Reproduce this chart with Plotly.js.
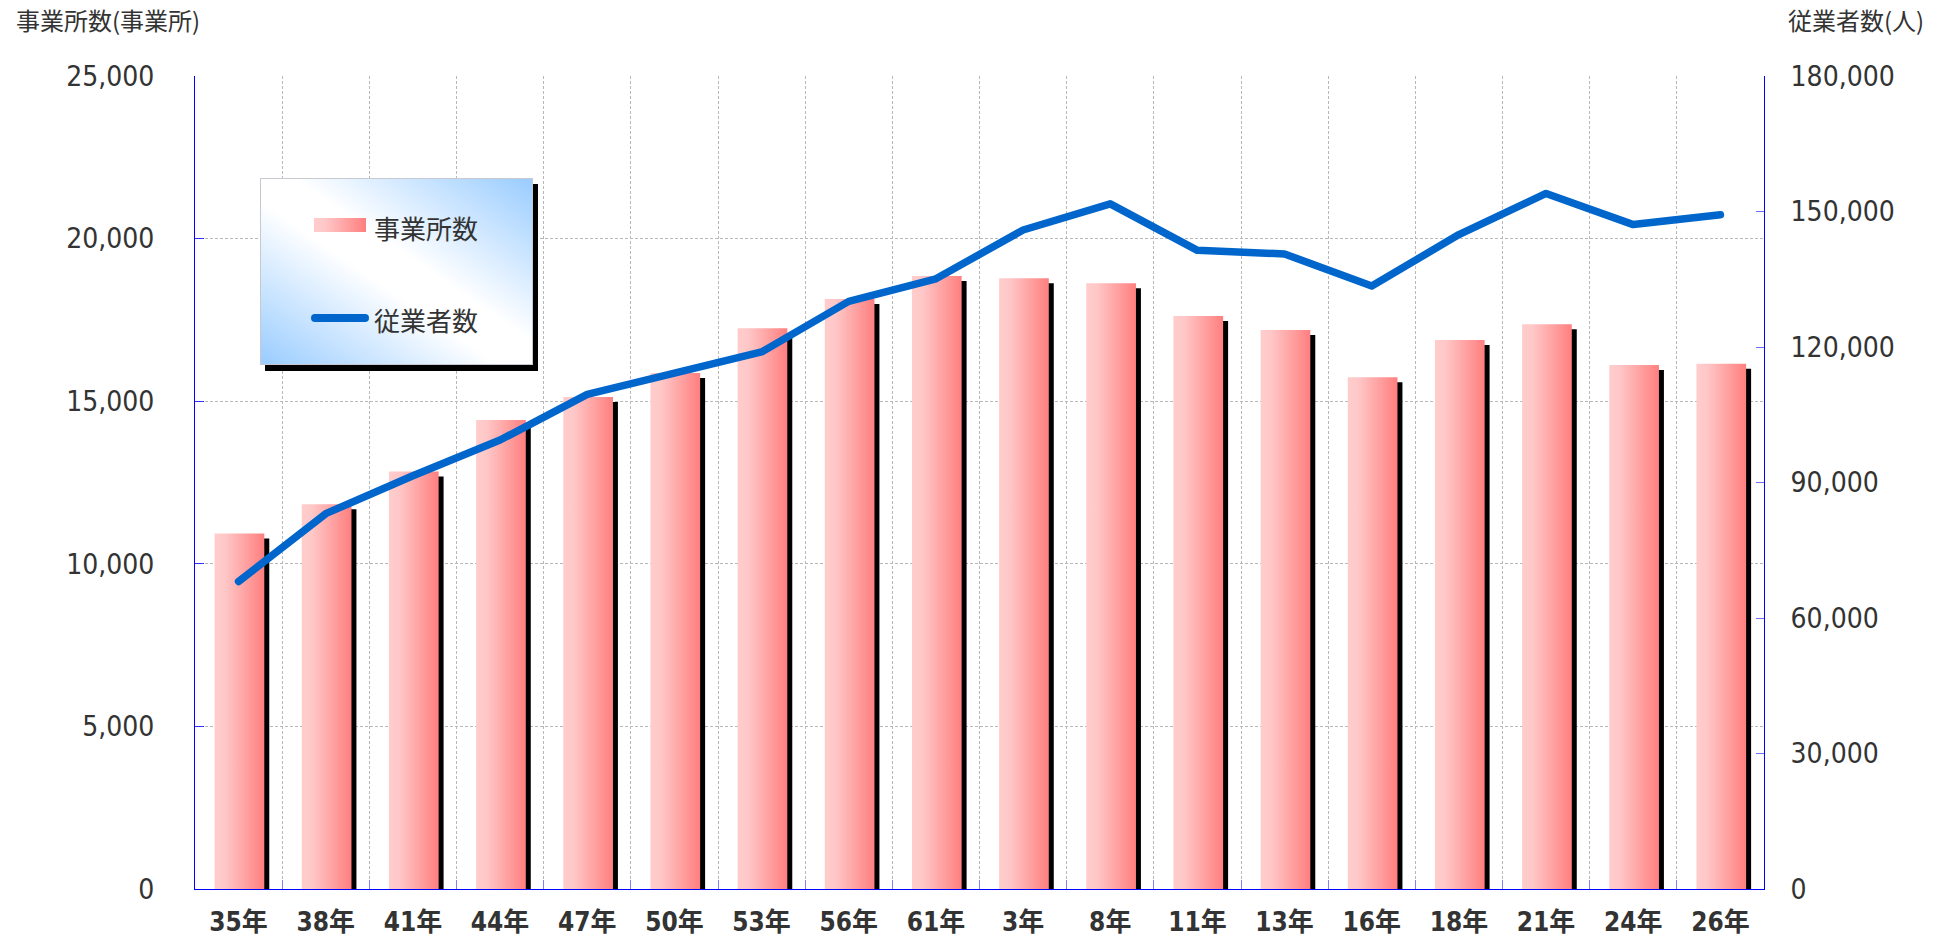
<!DOCTYPE html>
<html>
<head>
<meta charset="utf-8">
<script src="https://cdn.plot.ly/plotly-3.0.1.min.js"></script>
<style>
  html, body { margin: 0; padding: 0; background: #fff; overflow: hidden; }
  #chart { width: 1948px; height: 942px; }
</style>
</head>
<body>
<div id="chart"></div>
<script>
// ---- data ----
const categories = ['35年','38年','41年','44年','47年','50年','53年','56年','61年','3年','8年','11年','13年','16年','18年','21年','24年','26年'];
const offices = [10930, 11830, 12840, 14420, 15130, 15870, 17240, 18140, 18850, 18780, 18630, 17620, 17190, 15740, 16880, 17370, 16110, 16150];
const employees = [68100, 83100, 91500, 99400, 109500, 114200, 118900, 130100, 135100, 145900, 151700, 141400, 140600, 133500, 144900, 154000, 147100, 149300];
const leftTickVals = [0, 5000, 10000, 15000, 20000, 25000];
const leftTickText = ['0', '5,000', '10,000', '15,000', '20,000', '25,000'];
const rightTickVals = [0, 30000, 60000, 90000, 120000, 150000, 180000];
const rightTickText = ['0', '30,000', '60,000', '90,000', '120,000', '150,000', '180,000'];
const seriesNames = ['事業所数', '従業者数'];
const leftTitle = '事業所数(事業所)';
const rightTitle = '従業者数(人)';

// ---- geometry helpers (pixel layout) ----
const W = 1948, H = 942;
const M = { l: 195, r: 184, t: 76, b: 53 };
const PW = W - M.l - M.r, PH = H - M.t - M.b;
const px2x = p => (p - M.l) / PW;
const px2y = p => (H - M.b - p) / PH;

const tickFont = { family: '"DejaVu Sans Condensed", "Noto Sans CJK JP", sans-serif', size: 28, color: '#333333' };
const xFont = { family: '"DejaVu Sans Condensed", "Noto Sans CJK JP", sans-serif', size: 26, color: '#333333', weight: 600 };
const cjkFont = { family: '"Noto Sans CJK JP", sans-serif', size: 24, color: '#333333' };

const barWidth = 0.57;
const shadowDown = 154; // ~5px in y units

const traces = [
  { // shadow
    type: 'bar', x: categories, y: offices, base: -shadowDown,
    width: barWidth, offset: -barWidth / 2 + 0.067,
    marker: { color: '#000000', line: { width: 0 } },
    showlegend: false, hoverinfo: 'skip', yaxis: 'y'
  },
  {
    type: 'bar', name: seriesNames[0], x: categories, y: offices,
    width: barWidth, offset: -barWidth / 2 + 0.01,
    marker: { color: '#ffa6a6', line: { width: 0 } },
    showlegend: false, yaxis: 'y'
  },
  {
    type: 'scatter', mode: 'lines', name: seriesNames[1], x: categories, y: employees,
    line: { color: '#0066cc', width: 7.5 },
    showlegend: false, yaxis: 'y2'
  }
];

const legendSvg = `<svg xmlns="http://www.w3.org/2000/svg" width="280" height="194" viewBox="0 0 280 194" preserveAspectRatio="none">
<defs>
<linearGradient id="bg" x1="1" y1="0" x2="0" y2="1">
<stop offset="0" stop-color="#99ccff"/><stop offset="0.44" stop-color="#ffffff"/><stop offset="0.56" stop-color="#ffffff"/><stop offset="1" stop-color="#99ccff"/>
</linearGradient>
<linearGradient id="sw" x1="0" y1="0" x2="1" y2="0"><stop offset="0" stop-color="#ffcccc"/><stop offset="0.2" stop-color="#ffc8c8"/><stop offset="1" stop-color="#ff7f7f"/></linearGradient>
</defs>
<rect x="5" y="6" width="273" height="187" fill="#000"/>
<rect x="0.5" y="0.5" width="272" height="186" fill="url(#bg)" stroke="#c8c8d0" stroke-width="1"/>
<rect x="54" y="40" width="52" height="14" fill="url(#sw)"/>
<line x1="55" y1="140" x2="105" y2="140" stroke="#0066cc" stroke-width="8" stroke-linecap="round"/>
</svg>`;

const grid = { gridcolor: '#b8b8b8', griddash: '3px,2px', gridwidth: 1 };

const layout = {
  width: W, height: H,
  margin: { l: M.l, r: M.r, t: M.t, b: M.b, pad: 0 },
  paper_bgcolor: '#ffffff', plot_bgcolor: '#ffffff',
  barmode: 'overlay',
  showlegend: false,
  xaxis: Object.assign({
    type: 'category', range: [-0.5, categories.length - 0.5],
    showline: true, linecolor: '#0000ff', linewidth: 1,
    ticks: 'inside', ticklen: 9, tickcolor: '#8080ff', tickwidth: 1, tickson: 'boundaries',
    showgrid: true, tickfont: xFont, ticklabelstandoff: 10, fixedrange: true
  }, grid),
  yaxis: Object.assign({
    range: [0, 25000], tickvals: leftTickVals, ticktext: leftTickText,
    showline: true, linecolor: '#0000ff', linewidth: 1,
    ticks: 'inside', ticklen: 9, tickcolor: '#3030ff', tickwidth: 1,
    showgrid: true, zeroline: false, tickfont: tickFont, ticklabelstandoff: 34, fixedrange: true
  }, grid),
  yaxis2: {
    overlaying: 'y', side: 'right', range: [0, 180000],
    tickvals: rightTickVals, ticktext: rightTickText,
    showline: true, linecolor: '#0000ff', linewidth: 1,
    ticks: 'inside', ticklen: 8, tickcolor: '#7070ff', tickwidth: 1,
    showgrid: false, zeroline: false, tickfont: tickFont, ticklabelstandoff: 20, fixedrange: true
  },
  images: [{
    source: 'data:image/svg+xml;charset=utf-8,' + encodeURIComponent(legendSvg),
    xref: 'paper', yref: 'paper',
    x: px2x(260), y: px2y(178), sizex: 280 / PW, sizey: 194 / PH,
    xanchor: 'left', yanchor: 'top', sizing: 'stretch', layer: 'above'
  }],
  annotations: [
    { text: leftTitle, xref: 'paper', yref: 'paper', x: px2x(14), y: px2y(19), xanchor: 'left', yanchor: 'middle', showarrow: false, font: cjkFont },
    { text: rightTitle, xref: 'paper', yref: 'paper', x: px2x(1786), y: px2y(19), xanchor: 'left', yanchor: 'middle', showarrow: false, font: cjkFont },
    { text: seriesNames[0], xref: 'paper', yref: 'paper', x: px2x(372), y: px2y(227), xanchor: 'left', yanchor: 'middle', showarrow: false, font: Object.assign({}, cjkFont, { size: 26 }) },
    { text: seriesNames[1], xref: 'paper', yref: 'paper', x: px2x(372), y: px2y(319), xanchor: 'left', yanchor: 'middle', showarrow: false, font: Object.assign({}, cjkFont, { size: 26 }) }
  ]
};

Plotly.newPlot('chart', traces, layout, { displayModeBar: false, staticPlot: true }).then(gd => {
  const ns = 'http://www.w3.org/2000/svg';
  const svg = gd.querySelector('svg.main-svg');
  let defs = svg.querySelector('defs');
  if (!defs) { defs = document.createElementNS(ns, 'defs'); svg.insertBefore(defs, svg.firstChild); }
  const lg = document.createElementNS(ns, 'linearGradient');
  lg.setAttribute('id', 'barGrad');
  lg.setAttribute('x1', '0'); lg.setAttribute('y1', '0'); lg.setAttribute('x2', '1'); lg.setAttribute('y2', '0');
  [['0', '#ffcccc'], ['0.2', '#ffc8c8'], ['1', '#ff7f7f']].forEach(([o, c]) => {
    const s = document.createElementNS(ns, 'stop');
    s.setAttribute('offset', o); s.setAttribute('stop-color', c);
    lg.appendChild(s);
  });
  defs.appendChild(lg);
  const barTraces = gd.querySelectorAll('.barlayer .trace');
  if (barTraces.length > 1) {
    barTraces[1].querySelectorAll('path').forEach(p => { p.style.fill = 'url(#barGrad)'; });
  }
  gd.querySelectorAll('.scatterlayer .js-line').forEach(p => {
    p.style.strokeLinecap = 'round';
    p.style.strokeLinejoin = 'round';
  });
});
</script>
</body>
</html>
